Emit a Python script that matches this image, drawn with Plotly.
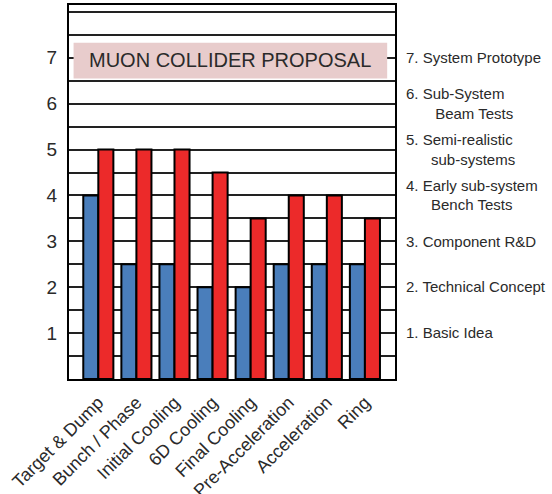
import plotly.graph_objects as go

# Muon collider subsystems and their technology readiness levels
systems = ["Target & Dump", "Bunch / Phase", "Initial Cooling", "6D Cooling",
           "Final Cooling", "Pre-Acceleration", "Acceleration", "Ring"]
current_level = [4, 2.5, 2.5, 2, 2, 2.5, 2.5, 2.5]
proposal_level = [5, 5, 5, 4.5, 3.5, 4, 4, 3.5]

NB = "\u00a0"
level_ticks = [1, 2, 3, 4, 5, 6, 7]
level_names = [
    "1. Basic Idea",
    "2. Technical Concept",
    "3. Component R&D",
    "4. Early sub-system<br>" + NB * 6 + "Bench Tests",
    "5. Semi-realistic<br>" + NB * 6 + "sub-systems",
    "6. Sub-System<br>" + NB * 7 + "Beam Tests",
    "7. System Prototype",
]
banner = "MUON COLLIDER PROPOSAL"

FONT = "Liberation Sans, Arial, sans-serif"
TXT = "#2a2a2a"
YMAX = 8.15

fig = go.Figure()
fig.add_bar(x=systems, y=current_level, name="Current",
            marker=dict(color="#4a7ebb", line=dict(color="black", width=2)))
fig.add_bar(x=systems, y=proposal_level, name="Proposal",
            marker=dict(color="#ec2a2a", line=dict(color="black", width=2)))
# carrier trace for the right-hand level axis
fig.add_scatter(x=[systems[0]], y=[0], yaxis="y2", mode="none",
                showlegend=False, hoverinfo="skip")

fig.add_shape(type="rect", xref="paper", yref="y", x0=0.014, x1=0.976,
              y0=6.55, y1=7.33, fillcolor="#e8cccc", line=dict(width=0),
              layer="above")
fig.add_annotation(text=banner, xref="paper", yref="y", x=0.495, y=6.95,
                   showarrow=False, font=dict(family=FONT, size=20, color=TXT))

fig.update_layout(
    width=552, height=494,
    margin=dict(l=69, r=157, t=5, b=115),
    paper_bgcolor="white", plot_bgcolor="white",
    barmode="group", bargap=0.21, bargroupgap=0.0,
    showlegend=False,
    font=dict(family=FONT, color=TXT),
    xaxis=dict(range=[-0.77, 7.79], tickangle=-45, showgrid=False,
               tickfont=dict(size=18, color=TXT), ticks="",
               ticklabelstandoff=4, automargin=False,
               showline=True, linecolor="black", linewidth=2, mirror=True),
    yaxis=dict(range=[0, YMAX], tickvals=level_ticks, ticks="",
               tickfont=dict(size=19, color=TXT), ticklabelstandoff=6,
               showgrid=True, gridcolor="#222", gridwidth=1.5,
               minor=dict(dtick=0.5, showgrid=True, gridcolor="#222", gridwidth=1.5),
               showline=True, linecolor="black", linewidth=2, mirror=True,
               zeroline=False),
    yaxis2=dict(range=[0, YMAX], overlaying="y", side="right",
                tickvals=level_ticks, ticktext=level_names, ticks="",
                tickfont=dict(size=15, color=TXT), ticklabelstandoff=10,
                showgrid=False, zeroline=False, showline=False),
)

fig.write_html("out.html")
